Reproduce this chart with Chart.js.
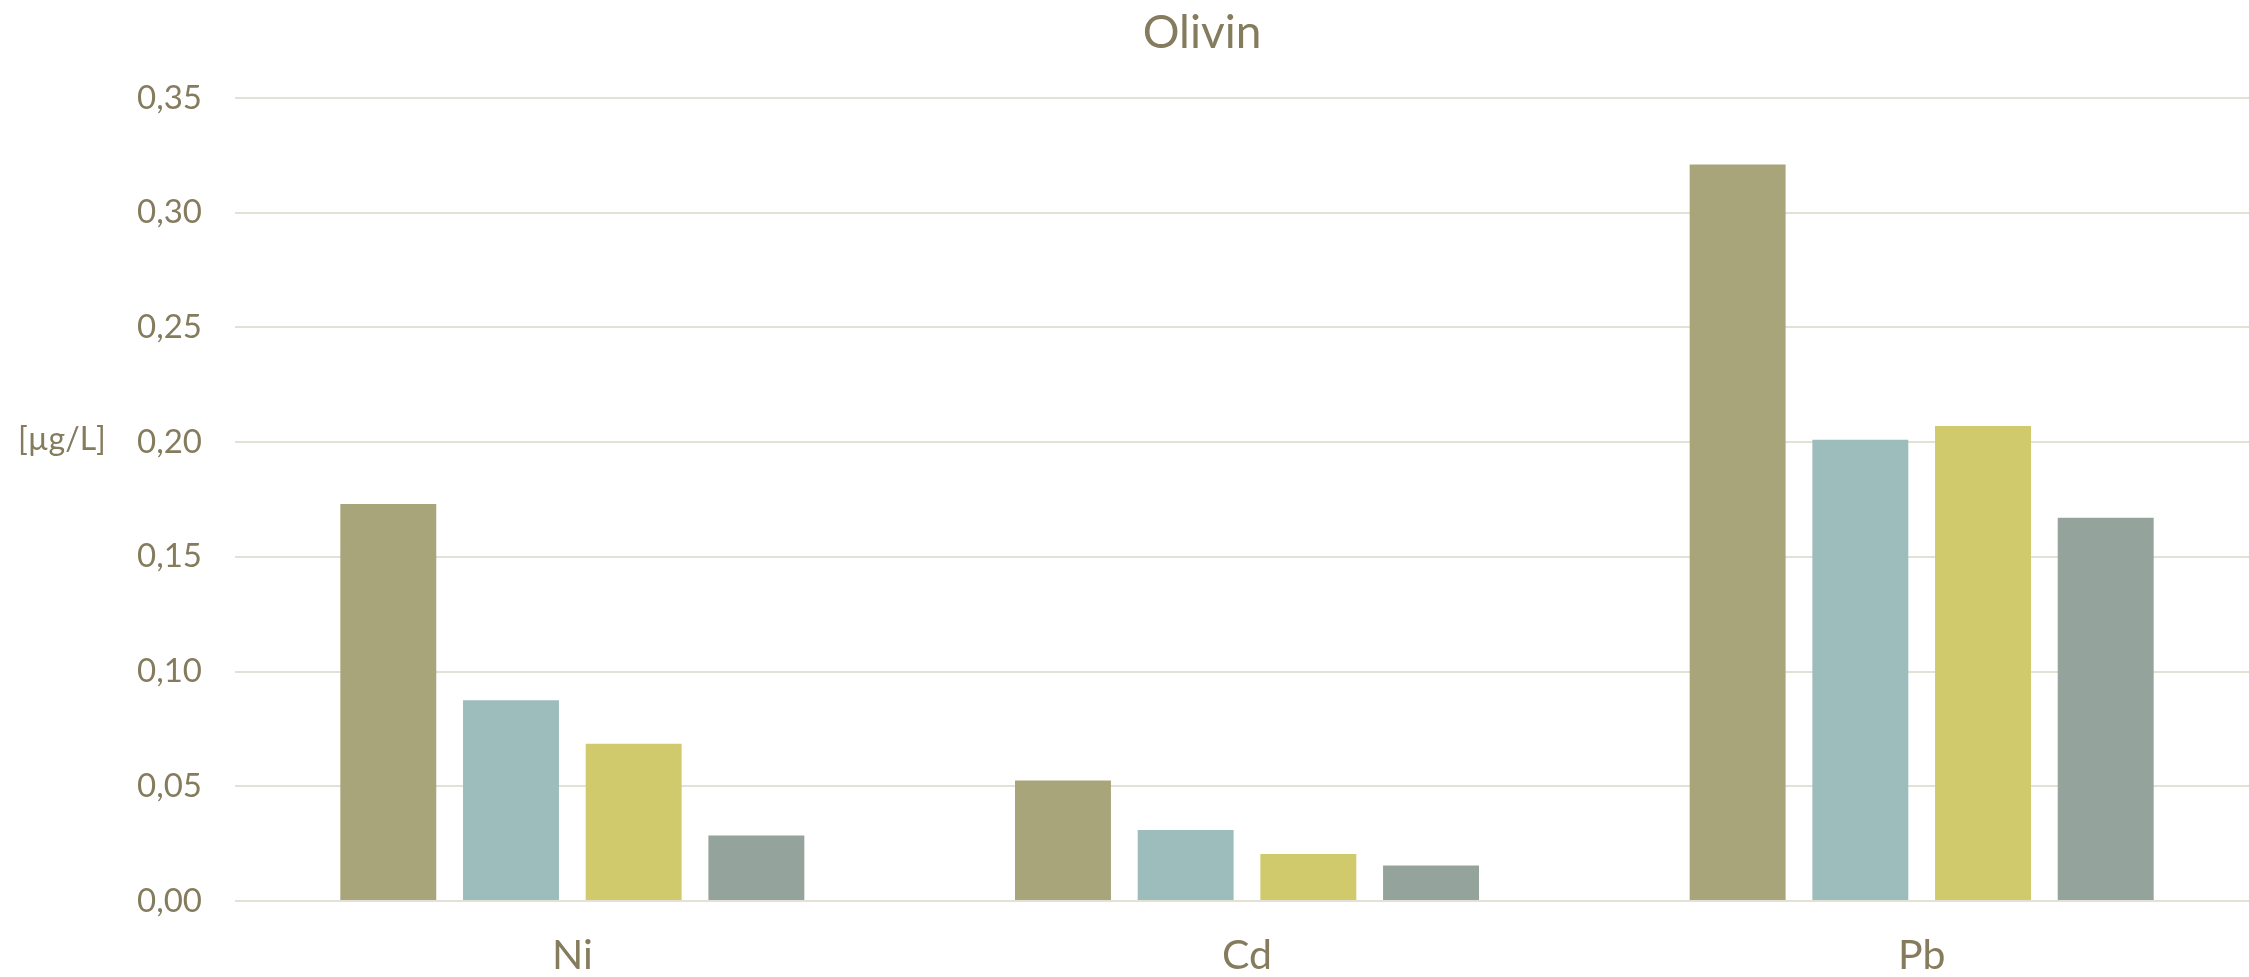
<!DOCTYPE html>
<html>
<head>
<meta charset="utf-8">
<script src="https://cdn.jsdelivr.net/npm/chart.js@4/dist/chart.umd.min.js"></script>
<style>
  html, body { margin: 0; padding: 0; background: #ffffff; overflow: hidden; }
  #wrap { position: relative; width: 2259px; height: 977px; }
</style>
</head>
<body>
<div id="wrap"><canvas id="c"></canvas></div>
<script>
const categories = ['Ni', 'Cd', 'Pb'];
const series1 = [0.173, 0.0525, 0.321];
const series2 = [0.0875, 0.031, 0.201];
const series3 = [0.0685, 0.0205, 0.207];
const series4 = [0.0285, 0.0155, 0.167];
const seriesNames = ['Serie 1', 'Serie 2', 'Serie 3', 'Serie 4'];
const chartTitle = 'Olivin';
const unitLabel = '[µg/L]';

const textColor = '#857B5D';
const gridColor = '#E3E0D6';
const colors = ['#A8A57B', '#9DBDBC', '#D1CA6C', '#94A39B'];
const FONT = 'Lato, "Noto Sans", sans-serif';

const extraText = {
  id: 'extraText',
  afterDraw(chart) {
    const ctx = chart.ctx;
    ctx.save();
    ctx.fillStyle = textColor;
    ctx.textBaseline = 'middle';
    ctx.textAlign = 'center';
    ctx.font = '46px ' + FONT;
    ctx.fillText(chartTitle, 1202, 33);
    ctx.textAlign = 'left';
    ctx.font = '32px ' + FONT;
    const y = chart.scales.y.getPixelForValue(0.20);
    ctx.fillText(unitLabel, 18, y - 2);
    ctx.restore();
  }
};

const allSeries = [series1, series2, series3, series4];
new Chart(document.getElementById('c'), {
  type: 'bar',
  data: {
    labels: categories,
    datasets: allSeries.map((d, i) => ({
      label: seriesNames[i],
      data: d,
      backgroundColor: colors[i],
      borderWidth: 0,
      categoryPercentage: 0.7274,
      barPercentage: 0.782
    }))
  },
  options: {
    responsive: true,
    maintainAspectRatio: false,
    animation: false,
    layout: { padding: { top: 98, left: 0, right: 0, bottom: 0 } },
    plugins: {
      legend: { display: false },
      title: { display: false },
      tooltip: { enabled: false }
    },
    scales: {
      x: {
        grid: { display: false, drawTicks: false },
        border: { display: false },
        ticks: { color: textColor, font: { family: FONT, size: 41 }, padding: 30 },
        afterFit(s) { s.height = 76; }
      },
      y: {
        min: 0,
        max: 0.35,
        grid: { color: gridColor, lineWidth: 2, drawTicks: false },
        border: { display: false },
        ticks: {
          stepSize: 0.05,
          color: textColor,
          font: { family: FONT, size: 33 },
          padding: 33,
          callback: v => v.toFixed(2).replace('.', ',')
        },
        afterFit(s) { s.width = 235; }
      }
    }
  },
  plugins: [extraText]
});
</script>
</body>
</html>
